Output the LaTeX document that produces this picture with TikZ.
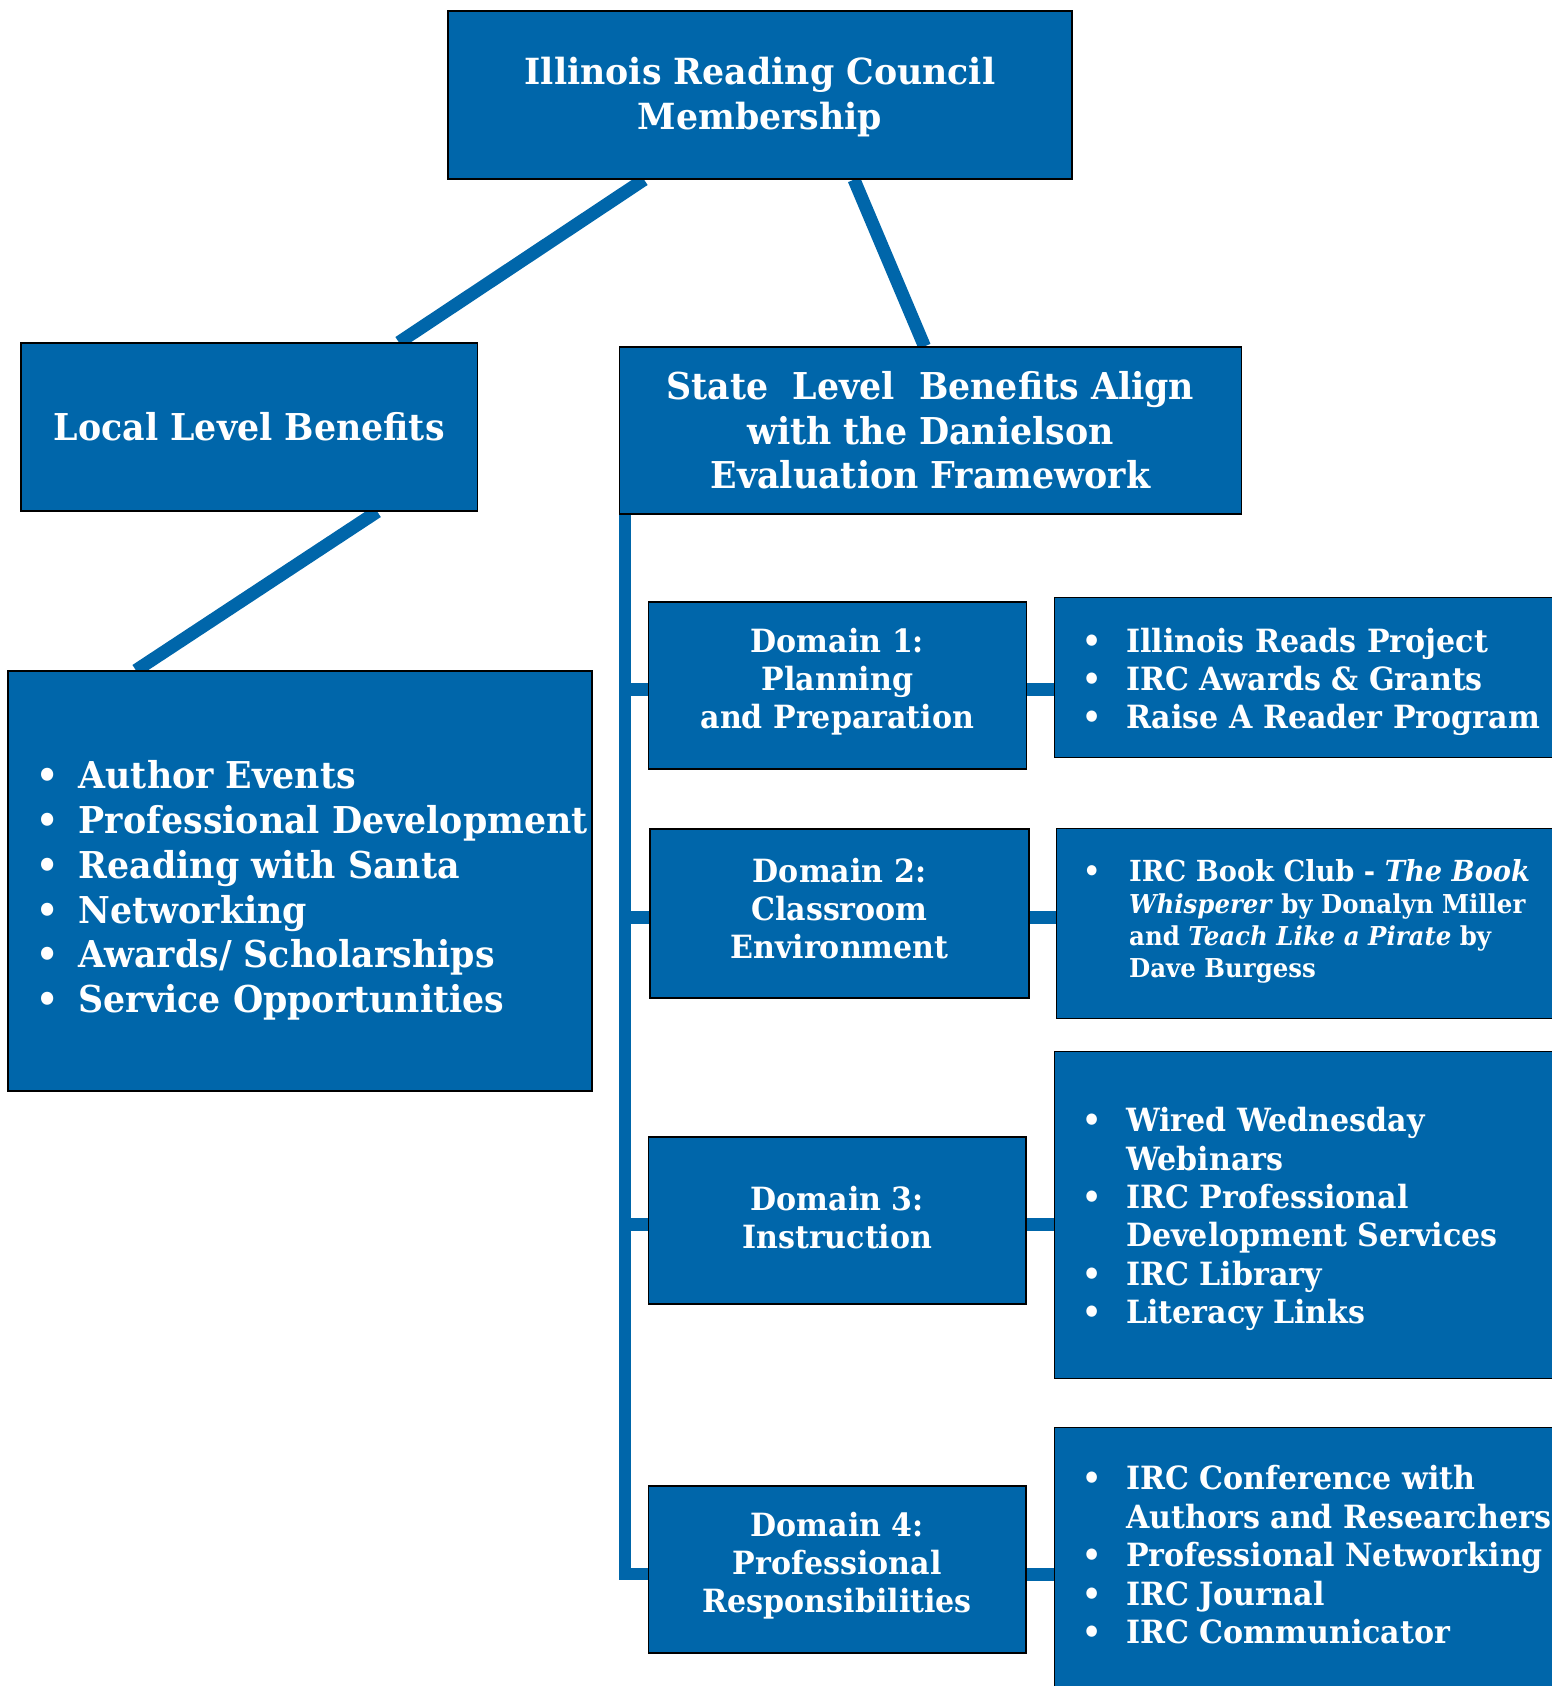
\documentclass[tikz,border=0pt]{standalone}
\usepackage{fontspec}
\setmainfont[FakeStretch=0.94]{DejaVu Serif}
\newfontfamily\titlefont[FakeStretch=0.965]{DejaVu Serif}
\usetikzlibrary{backgrounds}
\definecolor{ircblue}{RGB}{0,102,170}
\newcommand{\bitem}[2]{\makebox[#1][l]{\textbullet}#2}
\tikzset{
  box/.style={draw=black, line width=1.2pt, fill=ircblue, text=white, inner sep=0pt, align=center},
  boxtxt/.style={text=white, inner sep=0pt, align=center},
  listtxt/.style={text=white, inner sep=0pt, align=left, anchor=west},
  conn/.style={draw=ircblue, line width=13pt},
  domfont/.style={font=\bfseries\fontsize{32}{38}\selectfont},
}
\begin{document}
\begin{tikzpicture}[x=1pt,y=-1pt]
\useasboundingbox (0,0) rectangle (1551,1686);

% main boxes
\node[box, minimum width=624, minimum height=168] (top) at (760,95) {};
\node[boxtxt, font=\titlefont\bfseries\fontsize{36}{45}\selectfont] (topt) at ([yshift=-2pt]top.center) {Illinois Reading Council\\Membership};
\node[box, font=\bfseries\fontsize{37}{45}\selectfont, minimum width=456.5, minimum height=168] (local) at (249.25,427) {Local Level Benefits};
\node[box, font=\bfseries\fontsize{37}{44.5}\selectfont, minimum width=622, minimum height=167] (state) at (930.5,430.5) {State\ \ Level\ \ Benefits Align\\with the Danielson\\Evaluation Framework};
\node[box, minimum width=584, minimum height=420] (loclist) at (300,881) {};

% domain boxes
\node[box, minimum width=378, minimum height=167] (d1) at (837.4,685.4) {};
\node[box, minimum width=379, minimum height=169] (d2) at (839.5,913.4) {};
\node[box, minimum width=377.5, minimum height=167] (d3) at (837.3,1220.4) {};
\node[box, minimum width=377.5, minimum height=167] (d4) at (837.3,1569.5) {};
\node[boxtxt, domfont] (d1t) at ([yshift=4pt]d1.center) {Domain 1:\\Planning\\and Preparation};
\node[boxtxt, domfont] (d2t) at ([yshift=5pt]d2.center) {Domain 2:\\Classroom\\Environment};
\node[boxtxt, domfont] (d3t) at ([yshift=3pt]d3.center) {Domain 3:\\Instruction};
\node[boxtxt, domfont] (d4t) at ([yshift=4pt]d4.center) {Domain 4:\\Professional\\Responsibilities};

% list boxes (they run past the right edge)
\node[box, minimum width=517, minimum height=160, anchor=north west] (l1) at (1053.6,596.7) {};
\node[box, minimum width=514, minimum height=190, anchor=north west] (l2) at (1056,828) {};
\node[box, minimum width=517, minimum height=327, anchor=north west] (l3) at (1053.6,1051) {};
\node[box, minimum width=517, minimum height=300, anchor=north west] (l4) at (1053.6,1426.7) {};

% list texts
\node[listtxt, font=\bfseries\fontsize{37}{44.8}\selectfont] (loct) at (36,890.5) {%
\bitem{42.5pt}{Author Events}\\
\bitem{42.5pt}{Professional Development}\\
\bitem{42.5pt}{Reading with Santa}\\
\bitem{42.5pt}{Networking}\\
\bitem{42.5pt}{Awards/ Scholarships}\\
\bitem{42.5pt}{Service Opportunities}};

\node[listtxt, font=\bfseries\fontsize{32}{38}\selectfont] (l1t) at (1082,681.7) {%
\bitem{44pt}{Illinois Reads Project}\\
\bitem{44pt}{IRC Awards \& Grants}\\
\bitem{44pt}{Raise A Reader Program}};

\node[listtxt, font=\bfseries\fontsize{26}{32}\selectfont] (l2t) at (1083,921.5) {%
{\fontsize{29}{32}\selectfont\bitem{46pt}{IRC Book Club - \textit{The Book}}}\\
\hspace*{46pt}\textit{Whisperer} by Donalyn Miller\\
\hspace*{46pt}and \textit{Teach Like a Pirate} by\\
\hspace*{46pt}Dave Burgess};

\node[listtxt, font=\bfseries\fontsize{32}{38.3}\selectfont] (l3t) at (1082,1219) {%
\bitem{44pt}{Wired Wednesday}\\
\hspace*{44pt}Webinars\\
\bitem{44pt}{IRC Professional}\\
\hspace*{44pt}Development Services\\
\bitem{44pt}{IRC Library}\\
\bitem{44pt}{Literacy Links}};

\node[listtxt, font=\bfseries\fontsize{32}{38.5}\selectfont] (l4t) at (1082,1555) {%
\bitem{44pt}{IRC Conference with}\\
\hspace*{44pt}Authors and Researchers\\
\bitem{44pt}{Professional Networking}\\
\bitem{44pt}{IRC Journal}\\
\bitem{44pt}{IRC Communicator}};

% connector anchor points
\coordinate (bus) at ([xshift=6.5pt]state.south west);
\coordinate (d1c) at ([yshift=-4.5pt]d1.west);
\coordinate (d2c) at ([yshift=-4.5pt]d2.west);
\coordinate (d3c) at ([yshift=-4.5pt]d3.west);
\coordinate (d4c) at ([yshift=-4.5pt]d4.west);
\coordinate (d1e) at ([yshift=-4.5pt]d1.east);
\coordinate (d2e) at ([yshift=-4.5pt]d2.east);
\coordinate (d3e) at ([yshift=-4.5pt]d3.east);
\coordinate (d4e) at ([yshift=-4.5pt]d4.east);

\begin{pgfonlayer}{background}
\draw[conn] ([xshift=-116pt]top.south) -- ([xshift=149.75pt]local.north);
\draw[conn] ([xshift=128pt]local.south) -- ([xshift=-164pt]loclist.north);
\draw[conn] ([xshift=94pt]top.south) -- ([xshift=-6pt]state.north);
\draw[conn, line width=12pt] (bus) |- (d4c);
\draw[conn] (bus |- d1c) -- (d1c);
\draw[conn] (bus |- d2c) -- (d2c);
\draw[conn] (bus |- d3c) -- (d3c);
\draw[conn] (d1e) -- (d1e -| l1.west);
\draw[conn] (d2e) -- (d2e -| l2.west);
\draw[conn] (d3e) -- (d3e -| l3.west);
\draw[conn] (d4e) -- (d4e -| l4.west);
\end{pgfonlayer}
\end{tikzpicture}
\end{document}
